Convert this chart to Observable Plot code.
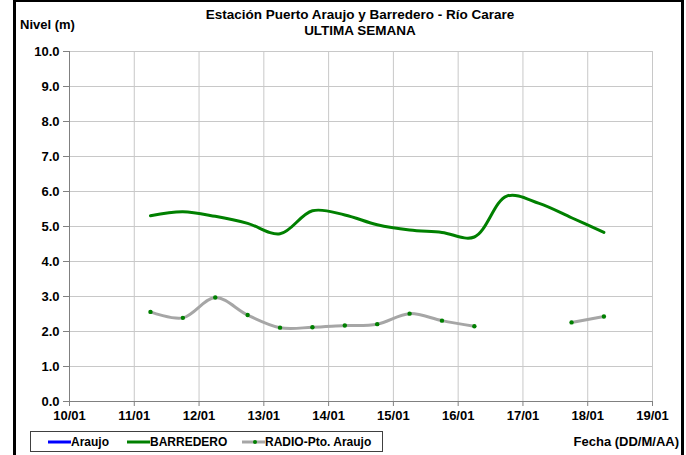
<!DOCTYPE html>
<html>
<head>
<meta charset="utf-8">
<script src="https://cdn.jsdelivr.net/npm/d3@7"></script>
<script src="https://cdn.jsdelivr.net/npm/@observablehq/plot@0.6"></script>
<style>
  html, body { margin: 0; padding: 0; background: #fff; }
  #wrap { position: relative; width: 686px; height: 455px; overflow: hidden; background: #fff;
          font-family: "Liberation Sans", Arial, sans-serif; font-weight: bold; color: #000; }
  #frame { position: absolute; left: 13px; top: 0; width: 671px; height: 470px; box-sizing: border-box;
           border-left: 3px solid #000; border-right: 3px solid #000; border-top: 2px solid #000; pointer-events: none; }
  .lbl { position: absolute; white-space: nowrap; }
  #legend { position: absolute; left: 30px; top: 431px; width: 353px; height: 21px; box-sizing: border-box;
            border: 1px solid #404040; font-size: 12px; }
  .item { position: absolute; top: 2px; display: flex; align-items: center; }
  .item svg { display: block; }
</style>
</head>
<body>
<div id="wrap">
  <div id="chart"></div>
  <div class="lbl" id="t1" style="left:0;width:720px;text-align:center;top:7px;font-size:13.5px;">Estación Puerto Araujo y Barredero - Río Carare</div>
  <div class="lbl" id="t2" style="left:0;width:720px;text-align:center;top:23px;font-size:13.5px;">ULTIMA SEMANA</div>
  <div class="lbl" style="left:20px;top:17px;font-size:13px;">Nivel (m)</div>
  <div class="lbl" style="right:7px;top:434px;font-size:13px;">Fecha (DD/M/AA)</div>
  <div id="legend"></div>
  <div id="frame"></div>
</div>
<script>
// Time of each reading, in days of January (06:00 and 18:00)
const days = [11.25, 11.75, 12.25, 12.75, 13.25, 13.75, 14.25, 14.75, 15.25, 15.75, 16.25, 16.75, 17.25, 17.75, 18.25];
// Nivel (m) — BARREDERO
const barredero = [5.31, 5.42, 5.29, 5.09, 4.79, 5.45, 5.33, 5.05, 4.90, 4.83, 4.70, 5.87, 5.66, 5.25, 4.83];
// Nivel (m) — RADIO-Pto. Araujo (null = no reading)
const radio = [2.56, 2.39, 2.97, 2.47, 2.11, 2.12, 2.17, 2.21, 2.51, 2.31, 2.15, null, null, 2.26, 2.43];
// Nivel (m) — Araujo (no readings shown)
const araujo = [null, null, null, null, null, null, null, null, null, null, null, null, null, null, null];

const seriesNames = ["Araujo", "BARREDERO", "RADIO-Pto. Araujo"];
const seriesColors = ["#0000ff", "#008000", "#a6a6a6"];
const dotColor = "#008000";

const xTicks = [10, 11, 12, 13, 14, 15, 16, 17, 18, 19];
const yTicks = [0, 1, 2, 3, 4, 5, 6, 7, 8, 9, 10];

const toRows = arr => days.map((d, i) => ({day: d, value: arr[i] == null ? NaN : arr[i]}));
const rowsAraujo = toRows(araujo);
const rowsBarr = toRows(barredero);
const rowsRadio = toRows(radio);

const chart = Plot.plot({
  width: 686,
  height: 455,
  marginLeft: 69,
  marginRight: 34,
  marginTop: 51,
  marginBottom: 54,
  style: {fontFamily: "'Liberation Sans', Arial, sans-serif", fontSize: "13px", fontWeight: "bold", background: "transparent", color: "#000"},
  x: {domain: [10, 19]},
  y: {domain: [0, 10]},
  marks: [
    Plot.gridX(xTicks, {stroke: "#c8c8c8", strokeOpacity: 1}),
    Plot.gridY(yTicks, {stroke: "#c8c8c8", strokeOpacity: 1}),
    Plot.ruleX([10], {stroke: "#808080"}),
    Plot.ruleY([0], {stroke: "#808080"}),
    Plot.axisX({ticks: xTicks, tickSize: 5, tickPadding: 4, stroke: "#808080",
      tickFormat: d => String(d).padStart(2, "0") + "/01", label: null, fill: "#000"}),
    Plot.axisY({ticks: yTicks, tickSize: 6, tickPadding: 4, stroke: "#808080",
      tickFormat: d => d.toFixed(1), label: null, fill: "#000"}),
    Plot.line(rowsAraujo, {x: "day", y: "value", stroke: seriesColors[0], strokeWidth: 3, curve: "catmull-rom"}),
    Plot.line(rowsBarr, {x: "day", y: "value", stroke: seriesColors[1], strokeWidth: 3, curve: "catmull-rom"}),
    Plot.line(rowsRadio, {x: "day", y: "value", stroke: seriesColors[2], strokeWidth: 3, curve: "catmull-rom"}),
    Plot.dot(rowsRadio.filter(r => !isNaN(r.value)), {x: "day", y: "value", r: 2.2, fill: dotColor, stroke: "none"})
  ]
});
document.getElementById("chart").appendChild(chart);

// Legend
const legendPos = [17, 96, 211];
const legend = document.getElementById("legend");
seriesNames.forEach((name, i) => {
  const item = document.createElement("div");
  item.className = "item";
  item.style.left = legendPos[i] + "px";
  const dot = i === 2 ? `<circle cx="13" cy="8" r="2" fill="${dotColor}"/>` : "";
  item.innerHTML = `<svg width="23" height="16"><line x1="0" x2="23" y1="8" y2="8" stroke="${seriesColors[i]}" stroke-width="3"/>${dot}</svg><span>${name}</span>`;
  legend.appendChild(item);
});
</script>
</body>
</html>
